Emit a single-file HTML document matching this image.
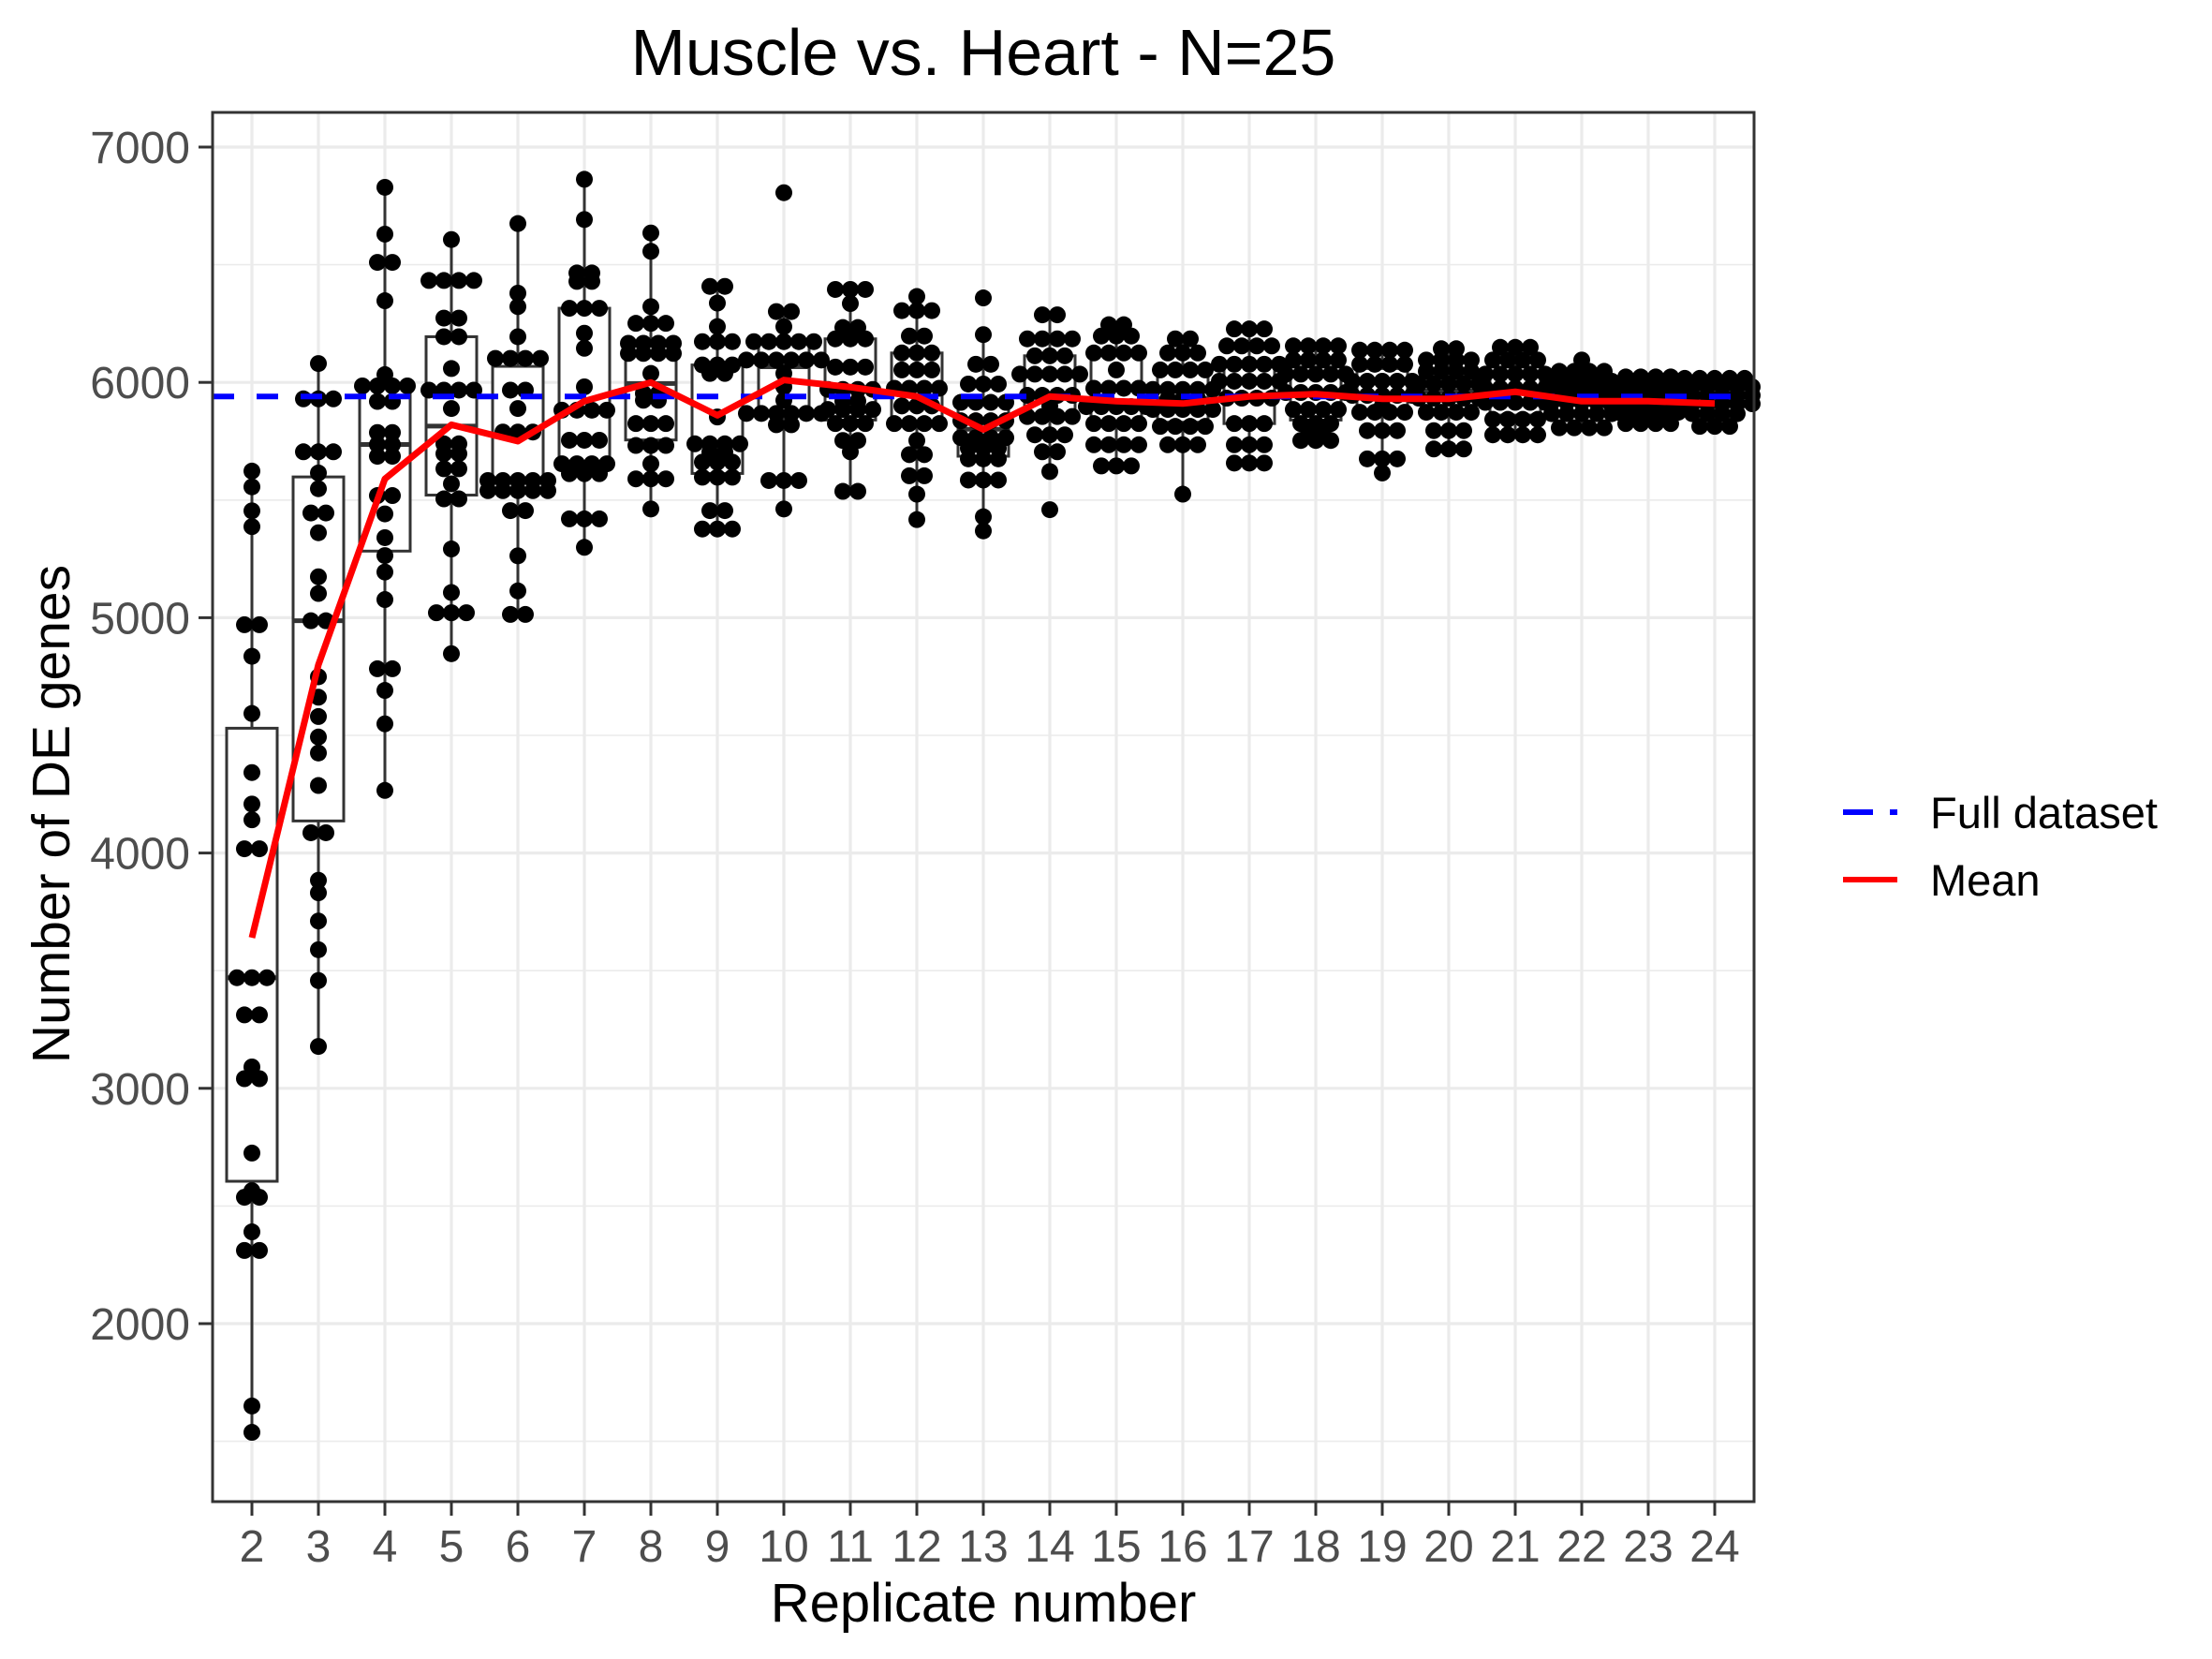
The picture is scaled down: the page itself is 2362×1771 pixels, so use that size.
<!DOCTYPE html>
<html><head><meta charset="utf-8">
<style>
html,body{margin:0;padding:0;background:#fff;}
svg{display:block;font-family:"Liberation Sans",Arial,sans-serif;}
</style></head>
<body>
<svg id="chart" width="2362" height="1771" viewBox="0 0 2362 1771" xmlns="http://www.w3.org/2000/svg">
<rect x="0" y="0" width="2362" height="1771" fill="#fff"/>
<text x="1050" y="80" font-size="70" text-anchor="middle" fill="#000">Muscle vs. Heart - N=25</text>
<g id="grid"></g>
<g id="boxes"></g>
<g id="dots"></g>
<g id="lines"></g>
<rect x="227" y="120" width="1646" height="1483" fill="none" stroke="#333" stroke-width="3"/>
<g id="axes"></g>
<text x="1050" y="1731" font-size="58" text-anchor="middle" fill="#000">Replicate number</text>
<text transform="translate(74,869) rotate(-90)" font-size="57" text-anchor="middle" fill="#000">Number of DE genes</text>
<g>
  <line x1="1968" y1="867" x2="2028" y2="867" stroke="#0000ff" stroke-width="6" stroke-dasharray="32 18 8 200"/>
  <text x="2061" y="884" font-size="47" fill="#000">Full dataset</text>
  <line x1="1968" y1="939" x2="2026" y2="939" stroke="#ff0000" stroke-width="6"/>
  <text x="2061" y="956" font-size="47" fill="#000">Mean</text>
</g>
</svg>
<script>
const categories = [2,3,4,5,6,7,8,9,10,11,12,13,14,15,16,17,18,19,20,21,22,23,24];
const yTicks = [2000,3000,4000,5000,6000,7000];
const fullDatasetValue = 5940;
const meanValues = [3640,4800,5590,5820,5750,5920,6000,5860,6010,5980,5940,5800,5940,5920,5910,5940,5950,5930,5930,5960,5920,5920,5910];
const rep2 = [5623,5556,5454,5387,4970,4970,4836,4593,4342,4208,4141,4018,4018,3470,3470,3470,3312,3312,3091,3041,3041,2725,2565,2537,2537,2390,2311,2311,1650,1538];
const rep3 = [6080,5930,5930,5930,5705,5705,5705,5615,5548,5445,5445,5361,5174,5103,4987,4987,4749,4662,4580,4493,4425,4287,4086,4086,3884,3831,3711,3589,3458,3178];
const rep4 = [6829,6630,6510,6510,6347,6033,5985,5985,5985,5985,5919,5919,5787,5787,5736,5736,5686,5686,5519,5519,5441,5340,5264,5194,5077,4783,4783,4691,4549,4266];
const rep5 = [6607,6433,6433,6433,6433,6273,6273,6194,6194,6059,5967,5967,5967,5967,5889,5739,5739,5697,5697,5633,5633,5569,5505,5505,5292,5107,5021,5021,5021,4847];
const rep6 = [6675,6379,6322,6194,6102,6102,6102,6102,5967,5967,5889,5789,5789,5789,5583,5583,5583,5583,5583,5540,5540,5540,5540,5540,5455,5455,5263,5114,5014,5014];
const rep7 = [6863,6692,6465,6465,6429,6429,6315,6315,6315,6209,6145,5981,5882,5882,5882,5882,5754,5754,5754,5654,5654,5654,5654,5612,5612,5612,5420,5420,5420,5299];
const rep8 = [6635,6557,6322,6251,6251,6251,6166,6166,6166,6166,6123,6123,6123,6123,6038,5953,5953,5924,5924,5825,5825,5825,5732,5732,5732,5654,5590,5590,5590,5462];
const rep9 = [6408,6408,6337,6237,6173,6173,6173,6074,6074,6074,6038,6038,5853,5739,5739,5739,5739,5704,5704,5661,5661,5661,5597,5597,5597,5455,5455,5377,5377,5377];
const rep10 = [6806,6301,6301,6237,6173,6173,6173,6173,6173,6095,6095,6095,6095,6095,6095,6038,5981,5924,5868,5868,5868,5868,5868,5868,5820,5820,5583,5583,5583,5462];
const rep11 = [6395,6395,6395,6335,6233,6233,6185,6185,6185,6065,6065,6065,5970,5970,5970,5970,5920,5920,5885,5885,5885,5885,5825,5825,5825,5753,5753,5705,5537,5537];
const rep12 = [6365,6305,6305,6305,6197,6197,6125,6125,6125,6053,6053,6053,5975,5975,5975,5975,5900,5900,5900,5825,5825,5825,5825,5753,5693,5693,5603,5603,5525,5417];
const rep13 = [6359,6203,6077,6077,5993,5993,5993,5915,5915,5915,5915,5837,5837,5837,5837,5765,5765,5765,5765,5720,5720,5720,5675,5675,5675,5585,5585,5585,5429,5369];
const rep14 = [6287,6287,6185,6185,6185,6185,6113,6113,6113,6035,6035,6035,6035,6035,5945,5945,5945,5945,5900,5855,5855,5855,5855,5777,5777,5777,5705,5705,5621,5459];
const rep15 = [6245,6245,6197,6197,6197,6125,6125,6125,6125,6053,5975,5975,5975,5975,5897,5897,5897,5897,5897,5825,5825,5825,5825,5735,5735,5735,5735,5645,5645,5645];
const rep16 = [6185,6185,6125,6125,6125,6053,6053,6053,6053,5970,5970,5970,5970,5970,5930,5930,5930,5885,5885,5885,5885,5885,5813,5813,5813,5813,5735,5735,5735,5525];
const rep17 = [6227,6227,6227,6155,6155,6155,6155,6077,6077,6077,6077,6077,6005,6005,6005,6005,6005,5933,5933,5933,5933,5825,5825,5825,5735,5735,5735,5657,5657,5657];
const rep18 = [6155,6155,6155,6155,6095,6095,6095,6095,6035,6035,6035,6035,6035,5957,5957,5957,5957,5957,5885,5885,5885,5885,5825,5825,5825,5800,5800,5753,5753,5753];
const rep19 = [6137,6137,6137,6137,6077,6077,6077,6077,6005,6005,6005,6005,6005,5945,5945,5945,5945,5945,5900,5873,5873,5873,5873,5795,5795,5795,5675,5675,5675,5615];
const rep20 = [6143,6143,6095,6095,6095,6095,6047,6047,6047,6047,5993,5993,5993,5993,5993,5933,5933,5933,5933,5933,5873,5873,5873,5873,5795,5795,5795,5717,5717,5717];
const rep21 = [6149,6149,6149,6095,6095,6095,6095,6035,6035,6035,6035,6035,5975,5975,5975,5975,5975,5915,5915,5915,5915,5915,5843,5843,5843,5843,5777,5777,5777,5777];
const rep22 = [6095,6047,6047,6047,6047,6005,6005,6005,6005,6005,5957,5957,5957,5957,5957,5957,5915,5915,5915,5915,5915,5867,5867,5867,5867,5867,5807,5807,5807,5807];
const rep23 = [6023,6023,6023,6023,5981,5981,5981,5981,5981,5945,5945,5945,5945,5945,5945,5909,5909,5909,5909,5909,5909,5873,5873,5873,5873,5873,5825,5825,5825,5825];
const rep24 = [6017,6017,6017,6017,6017,5981,5981,5981,5981,5981,5981,5945,5945,5945,5945,5945,5945,5909,5909,5909,5909,5909,5909,5867,5867,5867,5867,5813,5813,5813];
const seriesValues = [rep2,rep3,rep4,rep5,rep6,rep7,rep8,rep9,rep10,rep11,rep12,rep13,rep14,rep15,rep16,rep17,rep18,rep19,rep20,rep21,rep22,rep23,rep24];

const NS="http://www.w3.org/2000/svg";
const P={l:227,r:1873,t:120,b:1603};
function yPx(v){return 157+(7000-v)*0.2512;}
function xPx(i){return 269+i*71.0;}
function mk(tag,parent,attrs){const e=document.createElementNS(NS,tag);for(const k in attrs)e.setAttribute(k,attrs[k]);parent.appendChild(e);return e;}

const grid=document.getElementById('grid');
for(let v=1500;v<=7000;v+=1000){
  const y=yPx(v); if(y<P.t||y>P.b)continue;
  const ln=mk('line',grid,{x1:P.l,x2:P.r,y1:y,y2:y,stroke:'#ebebeb','stroke-width':1.6});
  
  
}
yTicks.forEach(v=>{
  const y=yPx(v);
  const ln=mk('line',grid,{x1:P.l,x2:P.r,y1:y,y2:y,stroke:'#ebebeb','stroke-width':3.2});
  
  
});
categories.forEach((c,i)=>{
  const x=xPx(i);
  const ln=mk('line',grid,{x1:x,x2:x,y1:P.t,y2:P.b,stroke:'#ebebeb','stroke-width':3.2});
  
  
});

function quant(s,p){const h=(s.length-1)*p,lo=Math.floor(h),hi=Math.ceil(h);return s[lo]+(s[hi]-s[lo])*(h-lo);}
const boxes=document.getElementById('boxes');
const dots=document.getElementById('dots');
const bw=54, d=16, rad=9;
seriesValues.forEach((vals,i)=>{
  const s=vals.slice().sort((a,b)=>a-b);
  const q1=quant(s,0.25),q3=quant(s,0.75),med=quant(s,0.5),iqr=q3-q1;
  const lo=s.find(v=>v>=q1-1.5*iqr), hi=[...s].reverse().find(v=>v<=q3+1.5*iqr);
  const x=xPx(i);
  const g=mk('g',boxes,{});
  
  
  mk('line',g,{x1:x,x2:x,y1:yPx(hi),y2:yPx(q3),stroke:'#333','stroke-width':3});
  mk('line',g,{x1:x,x2:x,y1:yPx(q1),y2:yPx(lo),stroke:'#333','stroke-width':3});
  mk('rect',g,{x:x-bw/2,y:yPx(q3),width:bw,height:yPx(q1)-yPx(q3),fill:'#fff',stroke:'#333','stroke-width':3});
  mk('line',g,{x1:x-bw/2,x2:x+bw/2,y1:yPx(med),y2:yPx(med),stroke:'#333','stroke-width':5});
  let groups=[],cur=null;
  s.forEach(v=>{ if(!cur||v!==cur.start){cur={start:v,vals:[]};groups.push(cur);} cur.vals.push(v); });
  const dg=mk('g',dots,{});
  
  
  groups.forEach(gr=>{
    const n=gr.vals.length;
    gr.vals.forEach((v,k)=>{
      const c=mk('circle',dg,{cx:x+(k-(n-1)/2)*d,cy:yPx(v),r:rad,fill:'#000'});
      
      
    });
  });
});

const lines=document.getElementById('lines');
const hl=mk('line',lines,{x1:P.l,x2:P.r,y1:yPx(fullDatasetValue),y2:yPx(fullDatasetValue),stroke:'#0000ff','stroke-width':6,'stroke-dasharray':'23 24'});


const pts=meanValues.map((v,i)=>xPx(i)+','+yPx(v)).join(' ');
const ml=mk('polyline',lines,{points:pts,fill:'none',stroke:'#ff0000','stroke-width':7,'stroke-linejoin':'round'});



const axes=document.getElementById('axes');
yTicks.forEach(v=>{
  const y=yPx(v);
  const t=mk('line',axes,{x1:P.l-15,x2:P.l,y1:y,y2:y,stroke:'#333','stroke-width':3});
  
  
  const tx=mk('text',axes,{x:P.l-24,y:y+17,'font-size':48,'text-anchor':'end',fill:'#4d4d4d'});
  tx.textContent=v;
  
  
});
categories.forEach((c,i)=>{
  const x=xPx(i);
  const t=mk('line',axes,{x1:x,x2:x,y1:P.b,y2:P.b+15,stroke:'#333','stroke-width':3});
  
  
  const tx=mk('text',axes,{x:x,y:1667,'font-size':48,'text-anchor':'middle',fill:'#4d4d4d'});
  tx.textContent=c;
  
  
});
</script>
</body></html>
